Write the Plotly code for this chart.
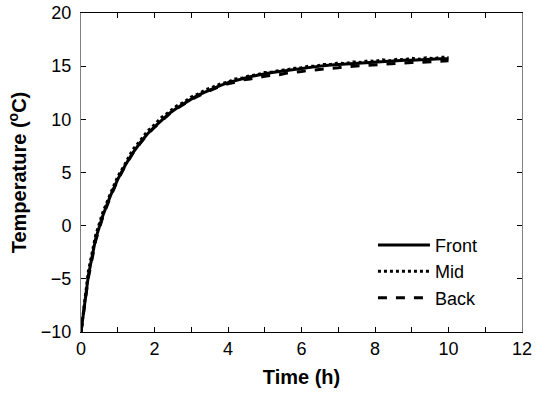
import plotly.graph_objects as go

time_h = [0.0, 0.2, 0.4, 0.6, 0.8, 1.0, 1.2, 1.4, 1.6, 1.8,
          2.0, 2.2, 2.4, 2.6, 2.8, 3.0, 3.2, 3.4, 3.6, 3.8,
          4.0, 4.2, 4.4, 4.6, 4.8, 5.0, 5.2, 5.4, 5.6, 5.8,
          6.0, 6.2, 6.4, 6.6, 6.8, 7.0, 7.2, 7.4, 7.6, 7.8,
          8.0, 8.2, 8.4, 8.6, 8.8, 9.0, 9.2, 9.4, 9.6, 9.8, 10.0]

front = [-10.0, -4.7, -1.2, 1.0, 2.8, 4.35, 5.65, 6.8, 7.75, 8.6,
         9.3, 9.95, 10.55, 11.05, 11.5, 11.9, 12.3, 12.6, 12.95, 13.2,
         13.45, 13.65, 13.85, 14.0, 14.15, 14.3, 14.4, 14.5, 14.6, 14.7,
         14.8, 14.9, 14.95, 15.05, 15.1, 15.15, 15.2, 15.25, 15.3, 15.35,
         15.4, 15.45, 15.45, 15.5, 15.55, 15.55, 15.6, 15.6, 15.65, 15.7, 15.7]

mid = [-10.0, -4.3, -0.9, 1.3, 3.0, 4.6, 5.8, 7.1, 7.95, 8.85,
       9.5, 10.2, 10.7, 11.25, 11.6, 12.1, 12.4, 12.8, 13.05, 13.35,
       13.5, 13.8, 13.9, 14.1, 14.2, 14.4, 14.45, 14.6, 14.65, 14.8,
       14.85, 15.0, 15.0, 15.15, 15.15, 15.3, 15.25, 15.4, 15.35, 15.5,
       15.45, 15.6, 15.5, 15.65, 15.6, 15.75, 15.65, 15.8, 15.7, 15.85, 15.8]

back = [-10.0, -4.9, -1.4, 0.9, 2.7, 4.3, 5.6, 6.75, 7.7, 8.55,
        9.25, 9.9, 10.5, 11.0, 11.45, 11.85, 12.2, 12.55, 12.85, 13.1,
        13.35, 13.5, 13.7, 13.8, 13.95, 14.05, 14.15, 14.2, 14.35, 14.4,
        14.5, 14.6, 14.65, 14.75, 14.8, 14.85, 14.95, 15.0, 15.05, 15.1,
        15.15, 15.2, 15.25, 15.25, 15.3, 15.35, 15.35, 15.4, 15.45, 15.45, 15.5]

series = [("Front", front, "solid"), ("Mid", mid, "dot"), ("Back", back, "dash")]

FONT = "Arial, Liberation Sans, sans-serif"

fig = go.Figure()
for name, vals, dash in series:
    fig.add_trace(go.Scatter(x=time_h, y=vals, mode="lines", name=name,
                             line=dict(color="black", width=3, dash=dash)))

fig.update_layout(
    width=546, height=399,
    margin=dict(l=81, r=24, t=13, b=67),
    paper_bgcolor="white", plot_bgcolor="white",
    font=dict(family=FONT, size=18, color="black"),
    showlegend=True,
    legend=dict(x=0.662, y=0.33, xanchor="left", yanchor="top",
                bgcolor="rgba(0,0,0,0)", font=dict(size=18), itemwidth=52,
                tracegroupgap=0),
)
fig.update_xaxes(
    range=[0, 12], dtick=2, tick0=0, showgrid=False, zeroline=False,
    showline=True, linecolor="black", linewidth=1, mirror="allticks",
    ticks="inside", ticklen=5, tickcolor="black",
    minor=dict(dtick=1, ticks="inside", ticklen=5, tickcolor="black", showgrid=False),
    title=dict(text="<b>Time (h)</b>", font=dict(size=20), standoff=12),
    automargin=False,
)
fig.update_yaxes(
    range=[-10, 20], dtick=5, tick0=0, showgrid=False, zeroline=False,
    showline=True, linecolor="#808080", linewidth=1, mirror="allticks",
    ticks="inside", ticklen=5, tickcolor="black", ticklabelstandoff=5,
    title=dict(text="<b>Temperature (<sup>o</sup>C)</b>", font=dict(size=20), standoff=8),
    automargin=False,
)

fig.write_html("out.html")
